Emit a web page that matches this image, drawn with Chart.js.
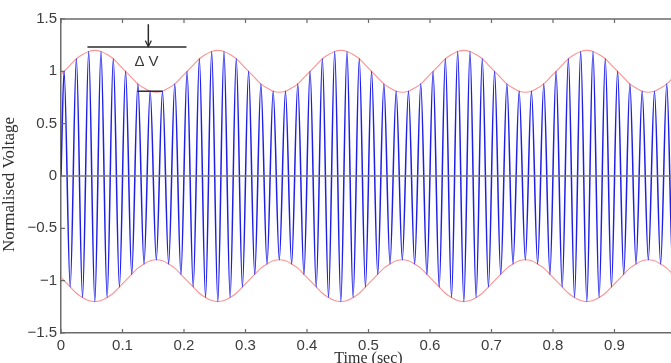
<!DOCTYPE html>
<html><head><meta charset="utf-8">
<script src="https://cdn.jsdelivr.net/npm/chart.js@4.4.1/dist/chart.umd.min.js"></script>
<style>
html,body{margin:0;padding:0;background:#fff;overflow:hidden;width:671px;height:363px}
#wrap{position:absolute;left:0;top:0;width:680px;height:363px}
</style></head>
<body><div id="wrap"><canvas id="c" width="680" height="363"></canvas></div>
<script>
// ---- data ----
const timeSec = [0,
 0.005,0.015,0.025,0.035,0.045,0.055,0.065,0.075,0.085,0.095,
 0.105,0.115,0.125,0.135,0.145,0.155,0.165,0.175,0.185,0.195,
 0.205,0.215,0.225,0.235,0.245,0.255,0.265,0.275,0.285,0.295,
 0.305,0.315,0.325,0.335,0.345,0.355,0.365,0.375,0.385,0.395,
 0.405,0.415,0.425,0.435,0.445,0.455,0.465,0.475,0.485,0.495,
 0.505,0.515,0.525,0.535,0.545,0.555,0.565,0.575,0.585,0.595,
 0.605,0.615,0.625,0.635,0.645,0.655,0.665,0.675,0.685,0.695,
 0.705,0.715,0.725,0.735,0.745,0.755,0.765,0.775,0.785,0.795,
 0.805,0.815,0.825,0.835,0.845,0.855,0.865,0.875,0.885,0.895,
 0.905,0.915,0.925,0.935,0.945,0.955,0.965,0.975,0.985,0.995,
 1.0];
const carrierVoltage = [0,
 1.00,-1.06,1.12,-1.16,1.19,-1.20,1.19,-1.16,1.12,-1.06,
 1.00,-0.94,0.88,-0.84,0.81,-0.80,0.81,-0.84,0.88,-0.94,
 1.00,-1.06,1.12,-1.16,1.19,-1.20,1.19,-1.16,1.12,-1.06,
 1.00,-0.94,0.88,-0.84,0.81,-0.80,0.81,-0.84,0.88,-0.94,
 1.00,-1.06,1.12,-1.16,1.19,-1.20,1.19,-1.16,1.12,-1.06,
 1.00,-0.94,0.88,-0.84,0.81,-0.80,0.81,-0.84,0.88,-0.94,
 1.00,-1.06,1.12,-1.16,1.19,-1.20,1.19,-1.16,1.12,-1.06,
 1.00,-0.94,0.88,-0.84,0.81,-0.80,0.81,-0.84,0.88,-0.94,
 1.00,-1.06,1.12,-1.16,1.19,-1.20,1.19,-1.16,1.12,-1.06,
 1.00,-0.94,0.88,-0.84,0.81,-0.80,0.81,-0.84,0.88,-0.94,
 0];
const envelopeUpper = [0.97,
 1.00,1.06,1.12,1.16,1.19,1.20,1.19,1.16,1.12,1.06,
 1.00,0.94,0.88,0.84,0.81,0.80,0.81,0.84,0.88,0.94,
 1.00,1.06,1.12,1.16,1.19,1.20,1.19,1.16,1.12,1.06,
 1.00,0.94,0.88,0.84,0.81,0.80,0.81,0.84,0.88,0.94,
 1.00,1.06,1.12,1.16,1.19,1.20,1.19,1.16,1.12,1.06,
 1.00,0.94,0.88,0.84,0.81,0.80,0.81,0.84,0.88,0.94,
 1.00,1.06,1.12,1.16,1.19,1.20,1.19,1.16,1.12,1.06,
 1.00,0.94,0.88,0.84,0.81,0.80,0.81,0.84,0.88,0.94,
 1.00,1.06,1.12,1.16,1.19,1.20,1.19,1.16,1.12,1.06,
 1.00,0.94,0.88,0.84,0.81,0.80,0.81,0.84,0.88,0.94,
 0.97];
const envelopeLower = [-0.97,
 -1.00,-1.06,-1.12,-1.16,-1.19,-1.20,-1.19,-1.16,-1.12,-1.06,
 -1.00,-0.94,-0.88,-0.84,-0.81,-0.80,-0.81,-0.84,-0.88,-0.94,
 -1.00,-1.06,-1.12,-1.16,-1.19,-1.20,-1.19,-1.16,-1.12,-1.06,
 -1.00,-0.94,-0.88,-0.84,-0.81,-0.80,-0.81,-0.84,-0.88,-0.94,
 -1.00,-1.06,-1.12,-1.16,-1.19,-1.20,-1.19,-1.16,-1.12,-1.06,
 -1.00,-0.94,-0.88,-0.84,-0.81,-0.80,-0.81,-0.84,-0.88,-0.94,
 -1.00,-1.06,-1.12,-1.16,-1.19,-1.20,-1.19,-1.16,-1.12,-1.06,
 -1.00,-0.94,-0.88,-0.84,-0.81,-0.80,-0.81,-0.84,-0.88,-0.94,
 -1.00,-1.06,-1.12,-1.16,-1.19,-1.20,-1.19,-1.16,-1.12,-1.06,
 -1.00,-0.94,-0.88,-0.84,-0.81,-0.80,-0.81,-0.84,-0.88,-0.94,
 -0.97];
const xTickValues = [0,0.1,0.2,0.3,0.4,0.5,0.6,0.7,0.8,0.9,1];
const xTickLabels = ['0','0.1','0.2','0.3','0.4','0.5','0.6','0.7','0.8','0.9','1'];
const yTickValues = [-1.5,-1,-0.5,0,0.5,1,1.5];
const yTickLabels = ['\u22121.5','\u22121','\u22120.5','0','0.5','1','1.5'];
const xTitle = 'Time (sec)';
const yTitle = 'Normalised Voltage    ';
const annotationText = '\u0394 V';

// ---- chart ----
const toPts = ys => timeSec.map((t, i) => ({x: t, y: ys[i]}));
const AXIS = '#6b6b6b';
const TICKFONT = {family: "'Liberation Sans', Arial, sans-serif", size: 15};

const framePlugin = {
  id: 'frame',
  afterDatasetsDraw(chart) {
    const {ctx, chartArea: a, scales: {x, y}} = chart;
    ctx.save();
    // zero line
    ctx.strokeStyle = '#7d7d7d'; ctx.lineWidth = 1.5;
    const y0 = y.getPixelForValue(0);
    ctx.beginPath(); ctx.moveTo(a.left, y0); ctx.lineTo(a.right, y0); ctx.stroke();
    // annotation: delta V marker
    ctx.strokeStyle = '#2b2b2b'; ctx.lineWidth = 1.5;
    const seg = (x1, y1, x2, y2) => {
      ctx.beginPath();
      ctx.moveTo(x.getPixelForValue(x1), y.getPixelForValue(y1));
      ctx.lineTo(x.getPixelForValue(x2), y.getPixelForValue(y2));
      ctx.stroke();
    };
    seg(0.043, 1.232, 0.204, 1.232);
    seg(0.124, 0.81, 0.165, 0.81);
    seg(0.142, 1.45, 0.142, 1.24);
    const ax = x.getPixelForValue(0.142), ay = y.getPixelForValue(1.236);
    ctx.lineWidth = 1.2;
    ctx.beginPath(); ctx.moveTo(ax - 3, ay - 6); ctx.lineTo(ax, ay); ctx.lineTo(ax + 3, ay - 6); ctx.stroke();
    ctx.fillStyle = '#3a3a3a';
    ctx.font = "15px 'Liberation Sans', Arial, sans-serif";
    ctx.textAlign = 'center'; ctx.textBaseline = 'middle';
    ctx.fillText(annotationText, x.getPixelForValue(0.139), y.getPixelForValue(1.09));
    ctx.restore();
  },
  afterDraw(chart) {
    const {ctx, chartArea: a, scales: {x, y}} = chart;
    ctx.save();
    ctx.strokeStyle = AXIS; ctx.lineWidth = 1.5;
    ctx.beginPath();
    ctx.moveTo(a.left, a.top); ctx.lineTo(a.right, a.top); ctx.lineTo(a.right, a.bottom);
    ctx.stroke();
    ctx.lineWidth = 1.2;
    const L = 4;
    xTickValues.forEach(v => {
      const px = x.getPixelForValue(v);
      ctx.beginPath(); ctx.moveTo(px, a.bottom); ctx.lineTo(px, a.bottom - L);
      ctx.moveTo(px, a.top); ctx.lineTo(px, a.top + L); ctx.stroke();
    });
    yTickValues.forEach(v => {
      const py = y.getPixelForValue(v);
      ctx.beginPath(); ctx.moveTo(a.left, py); ctx.lineTo(a.left + L, py);
      ctx.moveTo(a.right, py); ctx.lineTo(a.right - L, py); ctx.stroke();
    });
    ctx.restore();
  }
};

new Chart(document.getElementById('c'), {
  type: 'line',
  data: {
    datasets: [
      {label: 'Voltage', data: toPts(carrierVoltage), borderColor: 'rgb(30,30,235)', borderWidth: 1.5,
       pointRadius: 0, cubicInterpolationMode: 'monotone', fill: false},
      {label: 'Upper envelope', data: toPts(envelopeUpper), borderColor: 'rgb(250,150,150)', borderWidth: 1.2,
       pointRadius: 0, cubicInterpolationMode: 'monotone', fill: false},
      {label: 'Lower envelope', data: toPts(envelopeLower), borderColor: 'rgb(250,150,150)', borderWidth: 1.2,
       pointRadius: 0, cubicInterpolationMode: 'monotone', fill: false}
    ]
  },
  options: {
    responsive: false, animation: false, events: [],
    layout: {padding: {left: 0, right: 4, top: 19, bottom: 0}},
    plugins: {legend: {display: false}, tooltip: {enabled: false}},
    scales: {
      x: {
        type: 'linear', min: 0, max: 1,
        grid: {display: false, drawTicks: false},
        border: {display: true, color: AXIS, width: 1.5},
        afterBuildTicks: s => { s.ticks = xTickValues.map(v => ({value: v})); },
        ticks: {autoSkip: false, maxRotation: 0, padding: 4, color: '#3c3c3c', font: TICKFONT,
                callback: (v, i) => xTickLabels[i]},
        title: {display: true, text: xTitle, color: '#2e2e2e',
                font: {family: "'Liberation Serif', 'Times New Roman', serif", size: 16, lineHeight: 1},
                padding: {top: 0, bottom: -4}},
        afterFit: s => { s.height = 30; s.paddingLeft = 0; s.paddingRight = 0; }
      },
      y: {
        type: 'linear', min: -1.5, max: 1.5,
        grid: {display: false, drawTicks: false},
        border: {display: true, color: AXIS, width: 1.5},
        afterBuildTicks: s => { s.ticks = yTickValues.map(v => ({value: v})); },
        ticks: {autoSkip: false, padding: 4, color: '#3c3c3c', font: TICKFONT,
                callback: (v, i) => yTickLabels[i]},
        title: {display: true, text: yTitle, color: '#2e2e2e',
                font: {family: "'Liberation Serif', 'Times New Roman', serif", size: 17, lineHeight: 1},
                padding: {top: 1, bottom: 0}},
        afterFit: s => { s.width = 61; s.paddingTop = 0; s.paddingBottom = 0; }
      }
    }
  },
  plugins: [framePlugin]
});
</script>
</body></html>
